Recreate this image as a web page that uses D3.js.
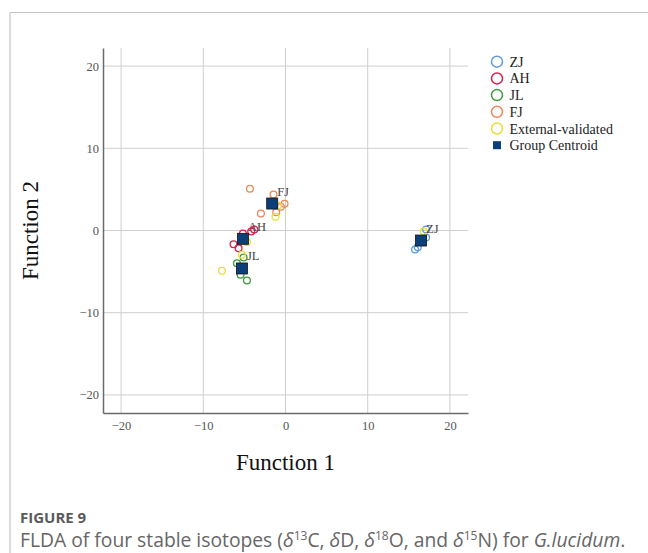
<!DOCTYPE html>
<html>
<head>
<meta charset="utf-8">
<script src="https://cdn.jsdelivr.net/npm/d3@7"></script>
<style>
body { margin:0; background:#fff; }
svg { display:block; }
</style>
</head>
<body>
<svg id="chart"></svg>
<script>
// ---------- data ----------
var groups = ["ZJ", "AH", "JL", "FJ", "External-validated"]
var groupColors = ["#5b9bdc", "#d81f4a", "#3a9a3c", "#f0845a", "#e6e03c"]

var zjPoints = [[17.10, 0.12], [17.10, -0.85], [15.76, -2.31], [16.09, -2.03]]
var ahPoints = [[-3.80, 0.12], [-4.17, -0.12], [-5.18, -0.36], [-6.32, -1.67], [-5.71, -2.15]]
var jlPoints = [[-5.10, -3.28], [-5.91, -3.98], [-5.47, -5.39], [-4.69, -6.08]]
var fjPoints = [[-4.33, 5.07], [-1.46, 4.38], [-0.12, 3.25], [-0.56, 2.88], [-1.13, 2.23], [-2.99, 2.07]]
var extPoints = [[-1.22, 1.67], [-0.92, 3.04], [-4.69, -1.42], [-5.30, -2.96], [-7.73, -4.90], [16.82, -0.09]]

var centroidNames = ["ZJ", "AH", "JL", "FJ"]
var centroidX = [16.49, -5.18, -5.30, -1.62]
var centroidY = [-1.22, -1.01, -4.62, 3.28]

var xTicks = [-20, -10, 0, 10, 20]
var yTicks = [-20, -10, 0, 10, 20]

// ---------- layout ----------
var screen = {width:648, height:553}
var plot = {left:103, right:468, top:48, bottom:413}

var svg = d3.select("#chart")
	.attr("width", screen.width)
	.attr("height", screen.height)

// frame of the figure panel
svg.append("line").attr("x1", 10).attr("x2", screen.width).attr("y1", 12.5).attr("y2", 12.5)
	.attr("stroke", "#c4c4c4").attr("stroke-width", 1.2)
svg.append("line").attr("x1", 10).attr("x2", 10).attr("y1", 12.5).attr("y2", screen.height)
	.attr("stroke", "#c4c4c4").attr("stroke-width", 1.2)

var xScale = d3.scaleLinear().domain([-22.2, 22.2]).range([plot.left, plot.right])
var yScale = d3.scaleLinear().domain([-22.2, 22.2]).range([plot.bottom, plot.top])

var fmt = function(d) { return d < 0 ? "\u2212" + Math.abs(d) : "" + d }

// ---------- grid ----------
var grid = svg.append("g")
grid.selectAll("line.vx")
	.data(xTicks)
	.enter()
	.append("line")
	.attr("x1", function(d) { return xScale(d) })
	.attr("x2", function(d) { return xScale(d) })
	.attr("y1", plot.top)
	.attr("y2", plot.bottom)
	.attr("stroke", "#cfcfcf")
grid.selectAll("line.hy")
	.data(yTicks)
	.enter()
	.append("line")
	.attr("x1", plot.left)
	.attr("x2", plot.right)
	.attr("y1", function(d) { return yScale(d) })
	.attr("y2", function(d) { return yScale(d) })
	.attr("stroke", "#cfcfcf")

// ---------- axes ----------
var xAxis = d3.axisBottom(xScale).tickValues(xTicks).tickFormat(fmt).tickSize(0).tickPadding(8)
var yAxis = d3.axisLeft(yScale).tickValues(yTicks).tickFormat(fmt).tickSize(0).tickPadding(4)

var gx = svg.append("g")
	.attr("transform", "translate(0," + plot.bottom + ")")
	.call(xAxis)
var gy = svg.append("g")
	.attr("transform", "translate(" + plot.left + ",0)")
	.call(yAxis)

svg.selectAll(".domain").attr("stroke", "#6b6b6b").attr("stroke-width", 1.5)
svg.selectAll(".tick text")
	.attr("font-family", "'Liberation Serif', 'DejaVu Serif', serif")
	.attr("font-size", 12.5)
	.attr("fill", "#555")

svg.append("text")
	.attr("x", (plot.left + plot.right) / 2)
	.attr("y", 470)
	.attr("text-anchor", "middle")
	.attr("font-family", "'Liberation Serif', serif")
	.attr("font-size", 23)
	.attr("fill", "#111")
	.text("Function 1")
svg.append("text")
	.attr("transform", "translate(38," + ((plot.top + plot.bottom) / 2) + ") rotate(-90)")
	.attr("text-anchor", "middle")
	.attr("font-family", "'Liberation Serif', serif")
	.attr("font-size", 23)
	.attr("fill", "#111")
	.text("Function 2")

// ---------- points ----------
var allSets = [zjPoints, ahPoints, jlPoints, fjPoints, extPoints]
var marks = svg.append("g")
allSets.forEach(function(pts, i) {
	marks.selectAll("circle.g" + i)
		.data(pts)
		.enter()
		.append("circle")
		.attr("class", "g" + i)
		.attr("cx", function(d) { return xScale(d[0]) })
		.attr("cy", function(d) { return yScale(d[1]) })
		.attr("r", 3.4)
		.attr("fill", "none")
		.attr("stroke", groupColors[i])
		.attr("stroke-width", 1.3)
})

// ---------- centroids ----------
var cents = centroidNames.map(function(n, i) { return {name:n, x:centroidX[i], y:centroidY[i]} })
var sq = 11
svg.selectAll("rect.centroid")
	.data(cents)
	.enter()
	.append("rect")
	.attr("class", "centroid")
	.attr("x", function(d) { return xScale(d.x) - sq / 2 })
	.attr("y", function(d) { return yScale(d.y) - sq / 2 })
	.attr("width", sq)
	.attr("height", sq)
	.attr("fill", "#0b3f7a")
	.attr("stroke", "#111")
	.attr("stroke-width", 0.8)
svg.selectAll("text.clabel")
	.data(cents)
	.enter()
	.append("text")
	.attr("class", "clabel")
	.attr("x", function(d) { return xScale(d.x) + 5 })
	.attr("y", function(d) { return yScale(d.y) - 8 })
	.attr("font-family", "'Liberation Serif', serif")
	.attr("font-size", 12.5)
	.attr("fill", "#444")
	.text(function(d) { return d.name })

// ---------- legend ----------
var legendItems = groups.concat(["Group Centroid"])
var legend = svg.append("g")
var rows = legend.selectAll("g")
	.data(legendItems)
	.enter()
	.append("g")
	.attr("transform", function(d, i) { return "translate(497," + (61.7 + i * 16.7) + ")" })
rows.each(function(d, i) {
	var row = d3.select(this)
	if (i < groups.length) {
		row.append("circle").attr("r", 5.5).attr("fill", "none")
			.attr("stroke", groupColors[i]).attr("stroke-width", 1.5)
	} else {
		row.append("rect").attr("x", -4).attr("y", -4).attr("width", 8).attr("height", 8)
			.attr("fill", "#0b3f7a")
	}
})
rows.append("text")
	.attr("x", 12.5)
	.attr("y", 5)
	.attr("font-family", "'Liberation Serif', serif")
	.attr("font-size", 14)
	.attr("fill", "#222")
	.text(function(d) { return d })

// ---------- caption ----------
svg.append("text")
	.attr("x", 20)
	.attr("y", 523)
	.attr("font-family", "'Open Sans', sans-serif")
	.attr("font-weight", 700)
	.attr("font-size", 15)
	.attr("fill", "#5a5a5a")
	.text("FIGURE 9")

var cap = svg.append("text")
	.attr("x", 20)
	.attr("y", 547)
	.attr("font-family", "'Open Sans', sans-serif")
	.attr("font-size", 19.3)
	.attr("fill", "#666")
cap.append("tspan").text("FLDA of four stable isotopes (")
cap.append("tspan").attr("font-style", "italic").text("\u03B4")
cap.append("tspan").attr("font-size", 12).attr("dy", -7).text("13")
cap.append("tspan").attr("dy", 7).text("C, ")
cap.append("tspan").attr("font-style", "italic").text("\u03B4")
cap.append("tspan").text("D, ")
cap.append("tspan").attr("font-style", "italic").text("\u03B4")
cap.append("tspan").attr("font-size", 12).attr("dy", -7).text("18")
cap.append("tspan").attr("dy", 7).text("O, and ")
cap.append("tspan").attr("font-style", "italic").text("\u03B4")
cap.append("tspan").attr("font-size", 12).attr("dy", -7).text("15")
cap.append("tspan").attr("dy", 7).text("N) for ")
cap.append("tspan").attr("font-style", "italic").text("G.lucidum")
cap.append("tspan").text(".")
</script>
</body>
</html>
